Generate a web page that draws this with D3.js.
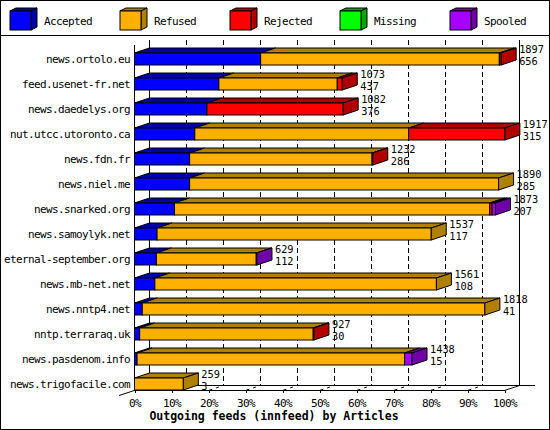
<!DOCTYPE html>
<html><head><meta charset="utf-8">
<script src="https://cdn.jsdelivr.net/npm/d3@7/dist/d3.min.js"></script>
<style>
html,body{margin:0;padding:0;background:#fff;}
svg{display:block;}
</style>
</head><body>
<svg id="chart" width="550" height="430"></svg>
<script>
const categories = ["news.ortolo.eu","feed.usenet-fr.net","news.daedelys.org","nut.utcc.utoronto.ca","news.fdn.fr","news.niel.me","news.snarked.org","news.samoylyk.net","eternal-september.org","news.mb-net.net","news.nntp4.net","nntp.terraraq.uk","news.pasdenom.info","news.trigofacile.com"];
const seriesNames = ["Accepted","Refused","Rejected","Missing","Spooled"];
const accepted = [34.1,22.8,19.6,16.3,14.9,14.9,10.8,6.1,5.9,5.5,2.1,1.4,0.7,0];
const refused  = [64.5,32.0,0,57.8,49.3,83.5,85.2,74.1,27.0,76.1,92.6,46.9,72.3,13.2];
const rejected = [0.5,1.35,36.8,26.0,0.2,0,0.65,0,0,0,0,0.2,0,0];
const missing  = [0,0,0,0,0,0,0,0,0,0,0,0,0,0];
const spooled  = [0,0,0,0,0,0,0.9,0,0.2,0,0,0,2.0,0];
const offered  = [1897,1073,1082,1917,1232,1890,1873,1537,629,1561,1818,927,1438,259];
const secondVal= [656,437,376,315,286,285,207,117,112,108,41,30,15,3];
const tickValues = [0,10,20,30,40,50,60,70,80,90,100];
const axisTitle = "Outgoing feeds (innfeed) by Articles";

const frontColors = ["#0000ff","#ffb000","#ff0000","#00ff00","#a800ff"];
const darkColors  = ["#0000a8","#b08000","#b00000","#00a800","#7000a8"];
const series = [accepted, refused, rejected, missing, spooled];

const W=550, H=430, DX=15, DY=5;
const svg = d3.select("#chart");
const mono = "'DejaVu Sans Mono', monospace";

// frame
svg.append("rect").attr("x",0.5).attr("y",0.5).attr("width",W-1).attr("height",H-1)
  .attr("fill","#fff").attr("stroke","#000").attr("shape-rendering","crispEdges");
svg.append("line").attr("x1",0).attr("x2",W).attr("y1",35.5).attr("y2",35.5)
  .attr("stroke","#000").attr("shape-rendering","crispEdges");

// legend
const leg = svg.append("g");
seriesNames.forEach((n,i)=>{
  const lx = 10 + i*110, ly = 11, s = 21, h = 19, dx=6, dy=3;
  const g = leg.append("g").attr("stroke","#000").attr("stroke-width",1);
  g.append("polygon").attr("points",[[lx,ly],[lx+s,ly],[lx+s+dx,ly-dy],[lx+dx,ly-dy]].join(" ")).attr("fill",darkColors[i]);
  g.append("polygon").attr("points",[[lx+s,ly],[lx+s+dx,ly-dy],[lx+s+dx,ly+h-dy],[lx+s,ly+h]].join(" ")).attr("fill",darkColors[i]);
  g.append("rect").attr("x",lx).attr("y",ly).attr("width",s).attr("height",h).attr("fill",frontColors[i]);
  leg.append("text").attr("x",lx+34).attr("y",21).attr("dy","0.35em")
    .attr("font-family",mono).attr("font-size","11px").attr("letter-spacing","-0.62px")
    .text(n);
});

const x = d3.scaleLinear().domain([0,100]).range([134.5,504.5]);
const y = d3.scaleBand().domain(categories).range([40,390]);

// back wall grid
const grid = svg.append("g").attr("stroke","#000").attr("shape-rendering","crispEdges");
tickValues.forEach(t=>{
  const gx = x(t)+DX;
  const l = grid.append("line").attr("x1",gx).attr("x2",gx).attr("y1",40).attr("y2",385.5);
  if (t>0 && t<100) l.attr("stroke-dasharray","5,3");
});
// floor back line
grid.append("line").attr("x1",x(0)+DX).attr("x2",535).attr("y1",385.5).attr("y2",385.5);
// floor depth lines
const floor = svg.append("g").attr("stroke","#000");
floor.append("line").attr("x1",119).attr("y1",395.5).attr("x2",x(0)+DX).attr("y2",385.5);
floor.append("line").attr("x1",x(100)).attr("y1",390.5).attr("x2",x(100)+DX).attr("y2",385.5);
tickValues.slice(1,-1).forEach(t=>{
  floor.append("line").attr("x1",x(t)).attr("y1",390.5).attr("x2",x(t)+DX).attr("y2",385.5)
    .attr("stroke-dasharray","4,4,3,20");
});

// front axis
const axis = svg.append("g").attr("transform","translate(0,390)")
  .call(d3.axisBottom(x).tickValues(tickValues).tickFormat(d=>d+"%").tickSize(3).tickSizeOuter(0).tickPadding(6));
axis.select(".domain").attr("stroke","#000").attr("shape-rendering","crispEdges");
axis.selectAll(".tick line").attr("stroke","#000").attr("shape-rendering","crispEdges");
axis.selectAll(".tick text").attr("font-family",mono).attr("font-size","11px").attr("letter-spacing","-0.62px").attr("fill","#000");
// left front axis
svg.append("line").attr("x1",x(0)).attr("x2",x(0)).attr("y1",45).attr("y2",390)
  .attr("stroke","#000").attr("shape-rendering","crispEdges");

// bars
const bars = svg.append("g").attr("stroke","#000").attr("stroke-width",1);
categories.forEach((c,i)=>{
  const yt = y(c)+13, bh = 12;
  let cum = 0, last = -1, lastX = x(0);
  series.forEach((arr,s)=>{
    const v = arr[i];
    if (!(v>0)) return;
    const x0 = x(cum), x1 = x(cum+v);
    bars.append("polygon").attr("points",[[x0,yt],[x1,yt],[x1+DX,yt-DY],[x0+DX,yt-DY]].join(" ")).attr("fill",darkColors[s]);
    bars.append("rect").attr("x",x0).attr("y",yt).attr("width",x1-x0).attr("height",bh).attr("fill",frontColors[s]);
    cum += v; last = s; lastX = x1;
  });
  if (last>=0) {
    bars.append("polygon").attr("points",[[lastX,yt],[lastX+DX,yt-DY],[lastX+DX,yt+bh-DY],[lastX,yt+bh]].join(" ")).attr("fill",darkColors[last]);
  }
  // value labels
  const tx = lastX + DX + 3;
  svg.append("text").attr("x",tx).attr("y",y(c)+9.5).attr("dy","0.36em")
    .attr("font-family",mono).attr("font-size","10.3px").text(offered[i]);
  svg.append("text").attr("x",tx).attr("y",y(c)+21.5).attr("dy","0.36em")
    .attr("font-family",mono).attr("font-size","10.3px").text(secondVal[i]);
  // category label
  svg.append("text").attr("x",130).attr("y",y(c)+19).attr("dy","0.35em").attr("text-anchor","end")
    .attr("font-family",mono).attr("font-size","11px").attr("letter-spacing","-0.62px").text(c);
});

// title
svg.append("text").attr("x",274).attr("y",416).attr("dy","0.35em").attr("text-anchor","middle")
  .attr("font-family",mono).attr("font-weight","bold").attr("font-size","11.5px").text(axisTitle);
</script>
</body></html>
